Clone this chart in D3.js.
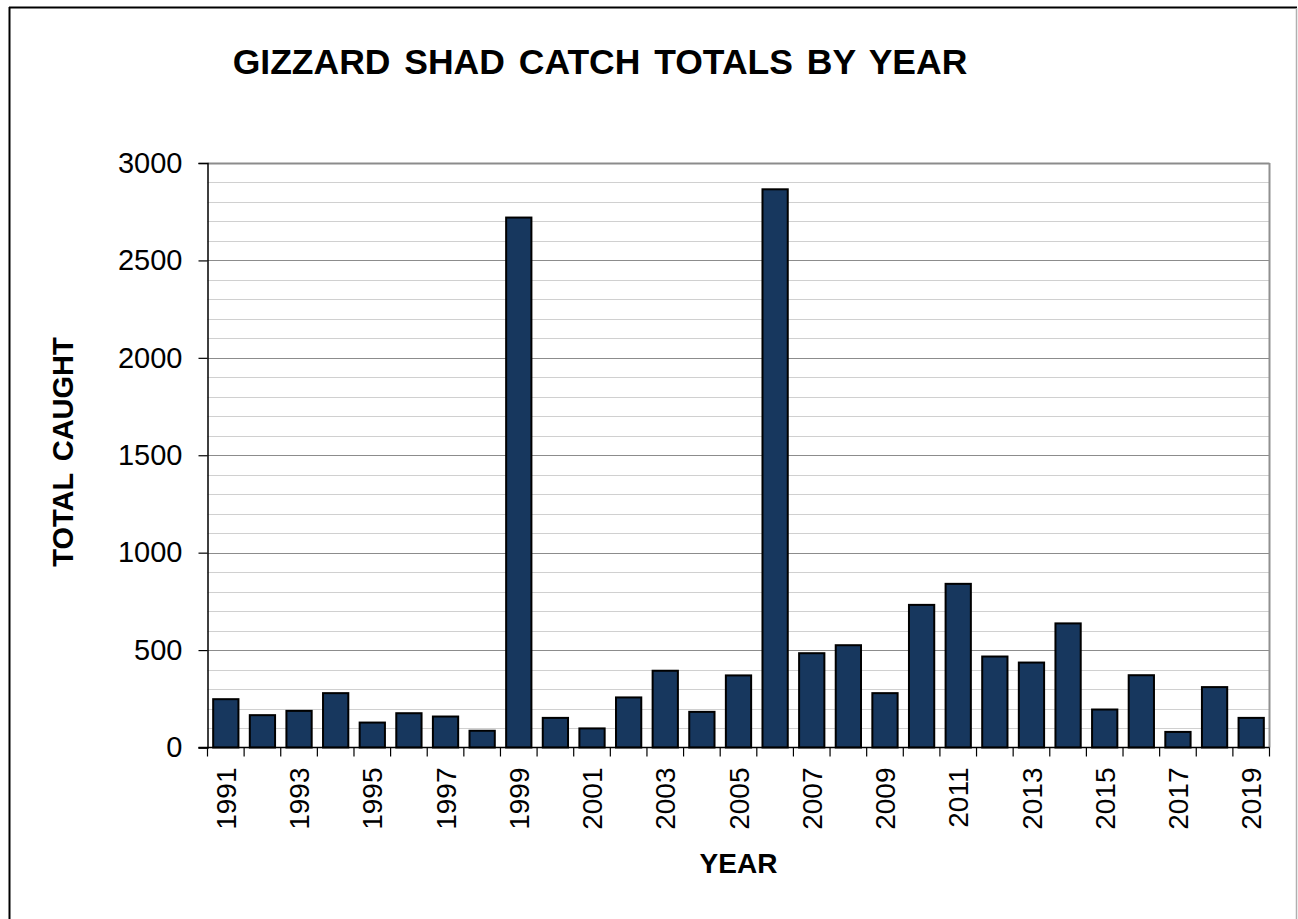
<!DOCTYPE html>
<html>
<head>
<meta charset="utf-8">
<script src="https://cdn.jsdelivr.net/npm/d3@7"></script>
<style>
  html, body { margin: 0; padding: 0; background: #fff; }
  svg { display: block; font-family: Arial, "Liberation Sans", sans-serif; }
</style>
</head>
<body>
<svg id="chart" width="1298" height="919"></svg>
<script>
const years = [1991,1992,1993,1994,1995,1996,1997,1998,1999,2000,2001,2002,2003,2004,2005,2006,2007,2008,2009,2010,2011,2012,2013,2014,2015,2016,2017,2018,2019];
const catchTotals = [248,166,188,279,128,176,159,86,2720,152,98,257,394,183,370,2865,484,525,279,732,840,467,436,637,195,371,80,310,152];
const yMajorTicks = [0,500,1000,1500,2000,2500,3000];
const yMinorTicks = d3.range(0, 3001, 100);
const titleText = "GIZZARD SHAD CATCH TOTALS BY YEAR";
const yTitle = "TOTAL CAUGHT";
const xTitle = "YEAR";

const svg = d3.select("#chart");
const pLeft = 207.5, pRight = 1269.5, pTop = 163, pBottom = 747.5;

const x = d3.scaleBand().domain(years).range([pLeft, pRight]).paddingInner(0.31).paddingOuter(0.155);
const xb = d3.scaleBand().domain(years).range([pLeft, pRight]);
const y = d3.scaleLinear().domain([0, 3000]).range([pBottom, pTop]);

// frame
svg.append("line").attr("x1", 9.5).attr("x2", 9.5).attr("y1", 7).attr("y2", 919).attr("stroke", "#000").attr("stroke-width", 2);
svg.append("line").attr("x1", 9).attr("x2", 1297).attr("y1", 7.5).attr("y2", 7.5).attr("stroke", "#000").attr("stroke-width", 2);
svg.append("line").attr("x1", 1296.5).attr("x2", 1296.5).attr("y1", 8).attr("y2", 919).attr("stroke", "#b0b0b0").attr("stroke-width", 1.5);

// minor gridlines
svg.append("g").selectAll("line").data(yMinorTicks.filter(v => v % 500 !== 0)).join("line")
  .attr("x1", pLeft).attr("x2", pRight)
  .attr("y1", d => Math.round(y(d)) + 0.5).attr("y2", d => Math.round(y(d)) + 0.5)
  .attr("stroke", "#d0d0d0").attr("stroke-width", 1.2);
// major gridlines
svg.append("g").selectAll("line").data(yMajorTicks.filter(v => v > 0)).join("line")
  .attr("x1", pLeft).attr("x2", pRight)
  .attr("y1", d => Math.round(y(d)) + 0.5).attr("y2", d => Math.round(y(d)) + 0.5)
  .attr("stroke", "#8c8c8c").attr("stroke-width", d => d === 3000 ? 2 : 1.2);
// plot right border
svg.append("line").attr("x1", pRight).attr("x2", pRight).attr("y1", pTop).attr("y2", pBottom)
  .attr("stroke", "#909090").attr("stroke-width", 2);

// bars
svg.append("g").selectAll("rect").data(years).join("rect")
  .attr("x", d => x(d))
  .attr("y", (d, i) => y(catchTotals[i]))
  .attr("width", x.bandwidth())
  .attr("height", (d, i) => y(0) - y(catchTotals[i]))
  .attr("fill", "#17375e")
  .attr("stroke", "#000").attr("stroke-width", 2);

// y axis
const yAxis = d3.axisLeft(y).tickValues(yMajorTicks).tickSize(9).tickPadding(16).tickFormat(d3.format("d"));
const gy = svg.append("g").attr("transform", `translate(${pLeft},0)`).call(yAxis);
gy.select(".domain").attr("stroke", "#000").attr("stroke-width", 1.5);
gy.selectAll(".tick line").attr("stroke", "#000").attr("stroke-width", 1.2);
gy.selectAll(".tick text").attr("font-size", 29).attr("fill", "#000").attr("font-family", "Arial, 'Liberation Sans', sans-serif");

// x axis baseline
svg.append("line").attr("x1", pLeft - 9).attr("x2", pRight).attr("y1", pBottom).attr("y2", pBottom)
  .attr("stroke", "#000").attr("stroke-width", 1.5);
// x ticks at band boundaries
const bounds = years.map(d => xb(d)).concat([pRight]);
svg.append("g").selectAll("line").data(bounds).join("line")
  .attr("x1", d => d).attr("x2", d => d).attr("y1", pBottom).attr("y2", pBottom + 9)
  .attr("stroke", "#000").attr("stroke-width", 1.2);
// x labels
svg.append("g").selectAll("text").data(years.filter((d, i) => i % 2 === 0)).join("text")
  .attr("transform", d => `translate(${xb(d) + xb.bandwidth() / 2},${pBottom + 20}) rotate(-90)`)
  .attr("text-anchor", "end").attr("dy", "0.36em")
  .attr("font-size", 28).attr("fill", "#000")
  .text(d => d);

// titles
svg.append("text").attr("x", 600).attr("y", 74).attr("text-anchor", "middle")
  .attr("font-size", 35.5).attr("font-weight", "bold").attr("word-spacing", 4).text(titleText);
svg.append("text").attr("transform", "translate(73,452) rotate(-90)").attr("text-anchor", "middle")
  .attr("font-size", 29).attr("font-weight", "bold").attr("word-spacing", 4).text(yTitle);
svg.append("text").attr("x", 738.5).attr("y", 873).attr("text-anchor", "middle")
  .attr("font-size", 28).attr("font-weight", "bold").text(xTitle);
</script>
</body>
</html>
